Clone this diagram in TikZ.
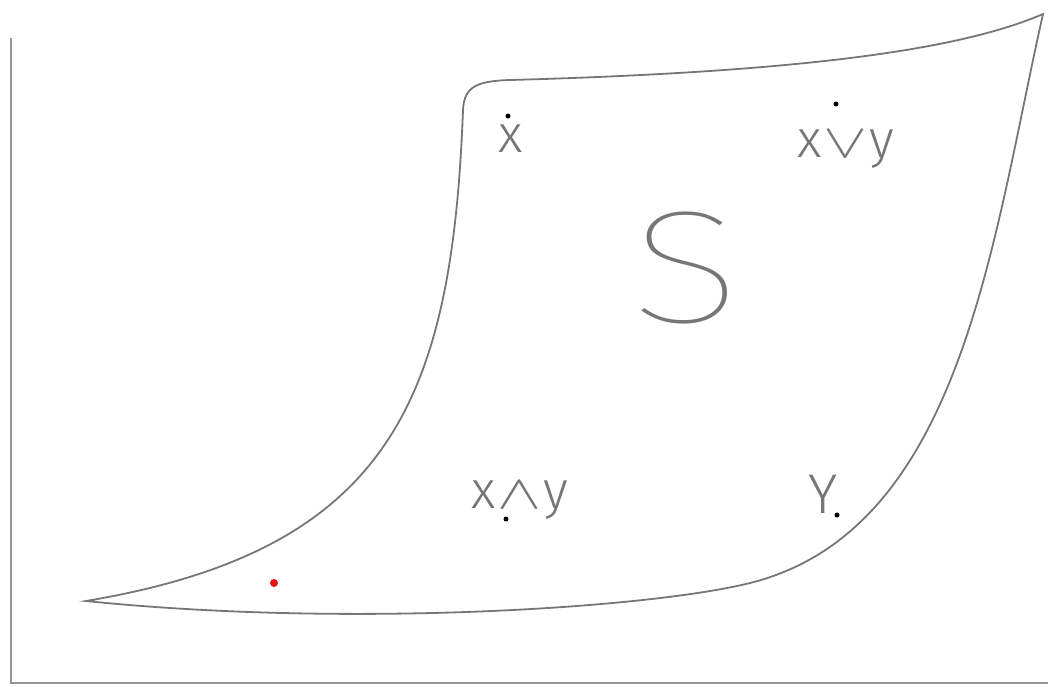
\documentclass[tikz,border=0pt]{standalone}
\usepackage{fontspec}
\setmainfont{Fira Sans Light}
\newfontfamily\thinf{Fira Sans Thin}
\definecolor{ink}{RGB}{118,118,118}
\definecolor{axis}{RGB}{150,150,150}
\definecolor{reddot}{RGB}{235,20,20}
\newcommand{\opsym}[1]{\scalebox{6.6}[4.8]{\normalsize$#1$}}
\tikzset{
  outline/.style={draw=ink, line width=1.8pt, line join=miter},
  axisline/.style={draw=axis, line width=2.6pt},
  lbl/.style={text=ink, inner sep=0pt, anchor=base, font=\fontsize{53}{55}\selectfont},
  bigs/.style={text=ink, inner sep=0pt, anchor=base, font=\thinf\fontsize{160}{160}\selectfont},
  pt/.style={circle, fill=black, inner sep=0pt, minimum size=5pt},
  rpt/.style={circle, fill=reddot, inner sep=0pt, minimum size=8pt}
}
\begin{document}
\begin{tikzpicture}[x=1pt,y=-1pt]
\useasboundingbox (0,0) rectangle (1048,686);
% axes
\coordinate (ytop) at (11,38);
\coordinate (orig) at (11,683);
\coordinate (xend) at (1048,683);
\draw[axisline] (ytop) -- (orig) -- (xend);
% surface outline
\coordinate (ll) at (86,601);
\coordinate (ul) at (463,110);
\coordinate (ult) at (510,80);
\coordinate (ur) at (1043,14);
\coordinate (lr) at (750,583);
\draw[outline] (ll) .. controls (390,550) and (452,400) .. (ul)
  .. controls (464,86) and (478,81) .. (ult)
  .. controls (800,72) and (960,50) .. (ur)
  .. controls (992,240) and (962,530) .. (lr)
  .. controls (650,608) and (350,628) .. (ll) -- cycle;
% labels
\node[lbl] (lx) at (511,152) {x};
\node[lbl] (ljoin) at (846,157) {x\hspace{2pt}\opsym{\vee}\hspace{2pt}y};
\node[lbl] (lmeet) at (520,508) {x\hspace{2pt}\opsym{\wedge}\hspace{2pt}y};
\node[lbl, font=\fontsize{56}{58}\selectfont] (ly) at (823,513) {Y};
\node[bigs] (S) at (686,322) {\scalebox{1.3}[1]{S}};
% points
\node[pt] (px) at (508,116) {};
\node[pt] (pjoin) at (836,104) {};
\node[pt] (pmeet) at (506,519) {};
\node[pt] (py) at (837,515) {};
\node[rpt] (pred) at (274,583) {};
\end{tikzpicture}
\end{document}
